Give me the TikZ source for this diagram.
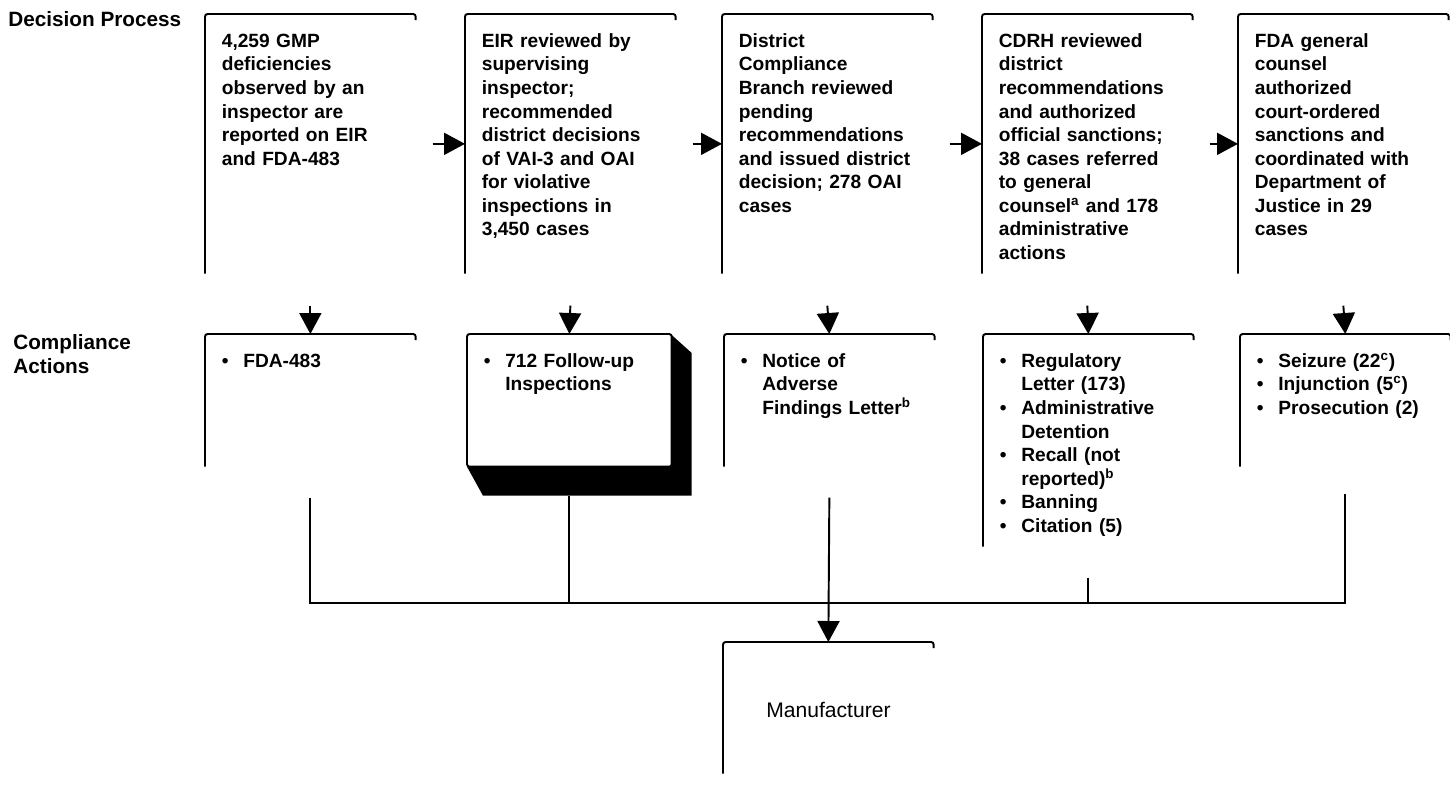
\documentclass[tikz,border=0pt]{standalone}
\usepackage{fontspec}
\setmainfont{Liberation Sans}
\usetikzlibrary{arrows.meta}

\newcommand{\bul}{\makebox[0.43cm][l]{\textbullet}}
\newcommand{\ind}{\hspace*{0.43cm}}

\begin{document}
\begin{tikzpicture}[
    stage/.style={anchor=north west, align=left, text width=3.54cm, inner xsep=0.33cm, inner ysep=0pt,
        text height=0.66cm, font=\fontsize{10.9pt}{13.4pt}\selectfont\bfseries},
    rowlabel/.style={anchor=north west, align=left, inner sep=0pt, font=\fontsize{11.8pt}{13.8pt}\selectfont\bfseries},
    frame/.style={line width=1.1pt, rounded corners=1.5pt},
    link/.style={line width=1.1pt},
    arrow/.style={link, -{Triangle[length=4.2mm,width=4.4mm]}}
]
    \useasboundingbox (0,0) rectangle (29,-15.92);

    % Decision process
    \node[rowlabel, anchor=base west] (lbldec) at (0.16,-0.52) {Decision Process};
    \node[stage, text depth=4.52cm] (d1) at (4.1,-0.28) {4,259 GMP\\deficiencies\\observed by an\\inspector are\\reported on EIR\\and FDA-483};
    \node[stage, text depth=4.52cm] (d2) at (9.3,-0.28) {EIR reviewed by\\supervising\\inspector;\\recommended\\district decisions\\of VAI-3 and OAI\\for violative\\inspections in\\3,450 cases};
    \node[stage, text depth=4.52cm] (d3) at (14.44,-0.28) {District\\Compliance\\Branch reviewed\\pending\\recommendations\\and issued district\\decision; 278 OAI\\cases};
    \node[stage, text depth=4.52cm] (d4) at (19.64,-0.28) {CDRH reviewed\\district\\recommendations\\and authorized\\official sanctions;\\38 cases referred\\to general\\counsel\textsuperscript{a} and 178\\administrative\\actions};
    \node[stage, text depth=4.52cm] (d5) at (24.76,-0.28) {FDA general\\counsel\\authorized\\court-ordered\\sanctions and\\coordinated with\\Department of\\Justice in 29\\cases};

    % Compliance actions
    \node[rowlabel] (lblcomp) at (0.26,-6.68) {Compliance\\Actions};
    \node[stage, text depth=1.98cm] (c1) at (4.1,-6.68) {\bul FDA-483};
    \node[stage, text depth=1.98cm, text width=3.42cm] (c2) at (9.34,-6.68) {\bul 712 Follow-up\\\ind Inspections};
    \node[stage, text depth=1.98cm] (c3) at (14.48,-6.68) {\bul Notice of\\\ind Adverse\\\ind Findings Letter\textsuperscript{b}};
    \node[stage, text depth=3.58cm] (c4) at (19.66,-6.68) {\bul Regulatory\\\ind Letter (173)\\\bul Administrative\\\ind Detention\\\bul Recall (not\\\ind reported)\textsuperscript{b}\\\bul Banning\\\bul Citation (5)};
    \node[stage, text depth=1.98cm] (c5) at (24.8,-6.68) {\bul Seizure (22\textsuperscript{c})\\\bul Injunction (5\textsuperscript{c})\\\bul Prosecution (2)};

    % Manufacturer
    \node[stage, font=\fontsize{12pt}{14pt}\selectfont, text height=1.5cm, text depth=1.12cm,
        inner xsep=0.86cm, text width=2.48cm] (mf) at (14.46,-12.84) {Manufacturer};

    % open frames
    \foreach \b in {d1,d2,d3,d4,d5,c1,c3,c4,c5,mf}
        \draw[frame] ([yshift=-0.12cm]\b.north east) -- (\b.north east) -- (\b.north west) -- (\b.south west);

    % 3-D box
    \fill ([yshift=-0.02cm]c2.north east) -- ++(0.4,-0.36) -- ([shift={(0.4,-0.58)}]c2.south east)
        -- ([shift={(0.32,-0.58)}]c2.south west) -- (c2.south west) -- (c2.south east) -- cycle;
    \draw[frame] (c2.north west) rectangle (c2.south east);

    % Arrows
    \foreach \a/\b in {d1/d2,d2/d3,d3/d4,d4/d5}
        \draw[arrow] ([xshift=0.34cm]\a.east) -- (\b.west);
    \foreach \i in {1,...,5}
        \draw[arrow] ([yshift=-0.64cm]d\i.south) -- (c\i.north);

    % Bus to manufacturer
    \coordinate (bus) at (0,-12.06);
    \draw[link] ([yshift=-0.62cm]c1.south) |- (c5.south |- bus) -- ([yshift=-0.54cm]c5.south);
    \draw[link] ([yshift=-0.58cm]c2.south) -- (c2.south |- bus);
    \draw[link] ([yshift=-0.62cm]c4.south) -- (c4.south |- bus);
    \draw[arrow] ([yshift=-0.62cm]c3.south) -- (mf.north);
\end{tikzpicture}
\end{document}
